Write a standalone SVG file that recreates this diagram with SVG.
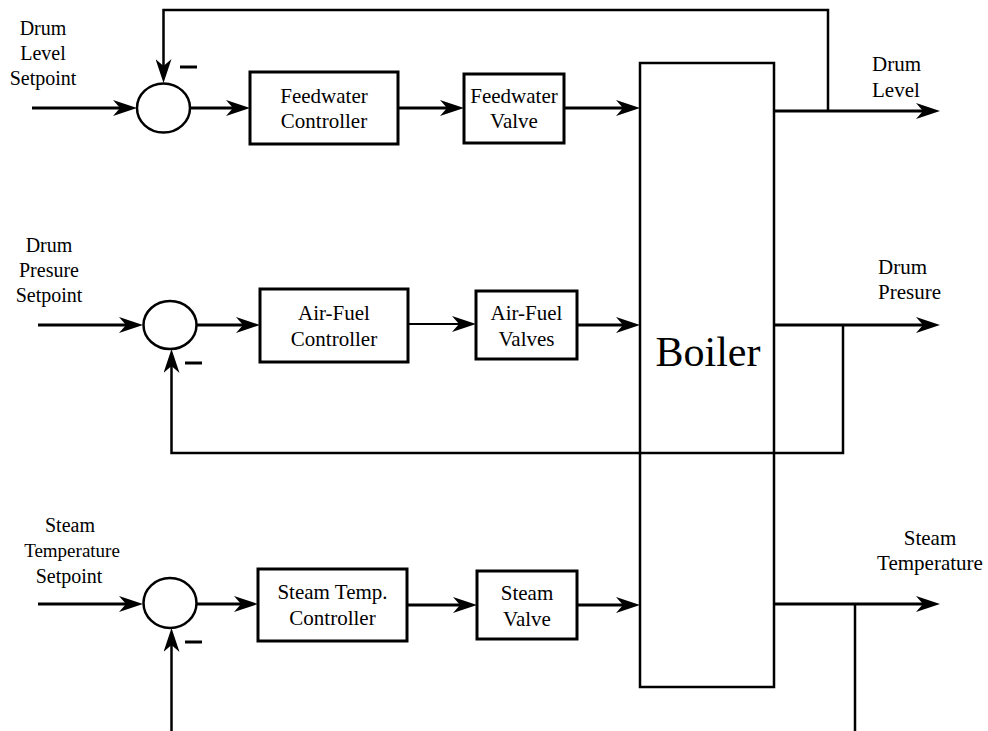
<svg xmlns="http://www.w3.org/2000/svg" width="988" height="731" viewBox="0 0 988 731" font-family="'Liberation Serif', 'Times New Roman', serif">
<style>
  svg, g, text { font-family: 'Liberation Serif', 'Times New Roman', serif; }
  text { fill: #000; }
  .lbl { font-size: 20px; }
  .rlbl { font-size: 21px; }
  .box { font-size: 21px; text-anchor: middle; }
  .c { text-anchor: middle; }
  .blk { fill: #fff; stroke: #000; stroke-width: 3; }
  .sum { fill: #fff; stroke: #000; stroke-width: 2.5; }
  .wire { fill: none; stroke: #000; stroke-width: 3; }
  .fb { fill: none; stroke: #000; stroke-width: 2.5; }
  .thin { fill: none; stroke: #000; stroke-width: 2; }
  .minus { stroke: #000; stroke-width: 3; }
</style>
<defs>
  <marker id="ah" viewBox="0 0 24 16" refX="14" refY="8" markerWidth="24" markerHeight="16" markerUnits="userSpaceOnUse" orient="auto">
    <path d="M0,0 L24,8 L0,16 L7,8 Z" fill="#000"/>
  </marker>
</defs>
<rect width="988" height="731" fill="#fff"/>

<!-- labels -->
<g id="label-drum-level-setpoint" class="lbl c">
  <text x="43" y="35">Drum</text>
  <text x="43" y="60">Level</text>
  <text x="43" y="85">Setpoint</text>
</g>
<g id="label-drum-presure-setpoint" class="lbl c">
  <text x="49" y="252">Drum</text>
  <text x="49" y="277">Presure</text>
  <text x="49" y="302">Setpoint</text>
</g>
<g id="label-steam-temp-setpoint" class="lbl c">
  <text x="70" y="532">Steam</text>
  <text x="72" y="557" font-size="19">Temperature</text>
  <text x="69" y="583">Setpoint</text>
</g>
<g id="label-drum-level" class="rlbl">
  <text x="872" y="71">Drum</text>
  <text x="872" y="97">Level</text>
</g>
<g id="label-drum-presure" class="rlbl">
  <text x="878" y="274">Drum</text>
  <text x="878" y="299">Presure</text>
</g>
<g id="label-steam-temperature" class="rlbl c">
  <text x="930" y="545">Steam</text>
  <text x="930" y="570">Temperature</text>
</g>

<!-- summing junctions -->
<g id="sum-level">
  <ellipse class="sum" cx="163.5" cy="108" rx="26.5" ry="24.5"/>
  <line class="minus" x1="180" y1="67" x2="197" y2="67"/>
</g>
<g id="sum-pressure">
  <ellipse class="sum" cx="170" cy="325" rx="26.5" ry="24"/>
  <line class="minus" x1="185" y1="363" x2="202" y2="363"/>
</g>
<g id="sum-temp">
  <ellipse class="sum" cx="170" cy="603" rx="26.5" ry="25"/>
  <line class="minus" x1="185" y1="642" x2="202" y2="642"/>
</g>

<!-- blocks -->
<g id="feedwater-controller">
  <rect class="blk" x="250" y="72" width="148" height="72"/>
  <text class="box" x="324" y="103">Feedwater</text>
  <text class="box" x="324" y="128">Controller</text>
</g>
<g id="feedwater-valve">
  <rect class="blk" x="464" y="74" width="100" height="69"/>
  <text class="box" x="514" y="103">Feedwater</text>
  <text class="box" x="514" y="128">Valve</text>
</g>
<g id="airfuel-controller">
  <rect class="blk" x="260" y="289" width="148" height="73"/>
  <text class="box" x="334" y="320">Air-Fuel</text>
  <text class="box" x="334" y="346">Controller</text>
</g>
<g id="airfuel-valves">
  <rect class="blk" x="476" y="291" width="101" height="68"/>
  <text class="box" x="526.5" y="320">Air-Fuel</text>
  <text class="box" x="526.5" y="346">Valves</text>
</g>
<g id="steamtemp-controller">
  <rect class="blk" x="258" y="569" width="149" height="72"/>
  <text class="box" x="332.5" y="599">Steam Temp.</text>
  <text class="box" x="332.5" y="625">Controller</text>
</g>
<g id="steam-valve">
  <rect class="blk" x="477" y="571" width="100" height="68"/>
  <text class="box" x="527" y="600">Steam</text>
  <text class="box" x="527" y="626">Valve</text>
</g>
<g id="boiler">
  <rect x="640" y="63" width="134" height="624" fill="#fff" stroke="#000" stroke-width="2.5"/>
  <text x="708" y="366" font-size="42" text-anchor="middle">Boiler</text>
</g>

<!-- connectors -->
<g id="connectors">
  <line class="wire" x1="32" y1="108" x2="127" y2="108" marker-end="url(#ah)"/>
  <line class="wire" x1="190" y1="108" x2="240" y2="108" marker-end="url(#ah)"/>
  <line class="wire" x1="398" y1="108" x2="454" y2="108" marker-end="url(#ah)"/>
  <line class="wire" x1="564" y1="108" x2="630" y2="108" marker-end="url(#ah)"/>
  <line class="wire" x1="774" y1="111" x2="930" y2="111" marker-end="url(#ah)"/>
  <path class="fb" d="M828,111 V10 H163.5 V73" marker-end="url(#ah)"/>
  <line class="wire" x1="38" y1="325" x2="133" y2="325" marker-end="url(#ah)"/>
  <line class="wire" x1="197" y1="325" x2="250" y2="325" marker-end="url(#ah)"/>
  <line class="thin" x1="408" y1="324" x2="466" y2="324" marker-end="url(#ah)"/>
  <line class="wire" x1="577" y1="325" x2="630" y2="325" marker-end="url(#ah)"/>
  <line class="wire" x1="774" y1="325" x2="930" y2="325" marker-end="url(#ah)"/>
  <path class="fb" d="M843,325 V453 H171.5 V359" marker-end="url(#ah)"/>
  <line class="wire" x1="38" y1="604" x2="133" y2="604" marker-end="url(#ah)"/>
  <line class="wire" x1="197" y1="604" x2="248" y2="604" marker-end="url(#ah)"/>
  <line class="wire" x1="407" y1="605" x2="467" y2="605" marker-end="url(#ah)"/>
  <line class="wire" x1="577" y1="605" x2="630" y2="605" marker-end="url(#ah)"/>
  <line class="wire" x1="774" y1="604" x2="930" y2="604" marker-end="url(#ah)"/>
  <line class="fb" x1="855" y1="604" x2="855" y2="731"/>
  <line class="fb" x1="171.5" y1="731" x2="171.5" y2="638" marker-end="url(#ah)"/>
</g>
</svg>
